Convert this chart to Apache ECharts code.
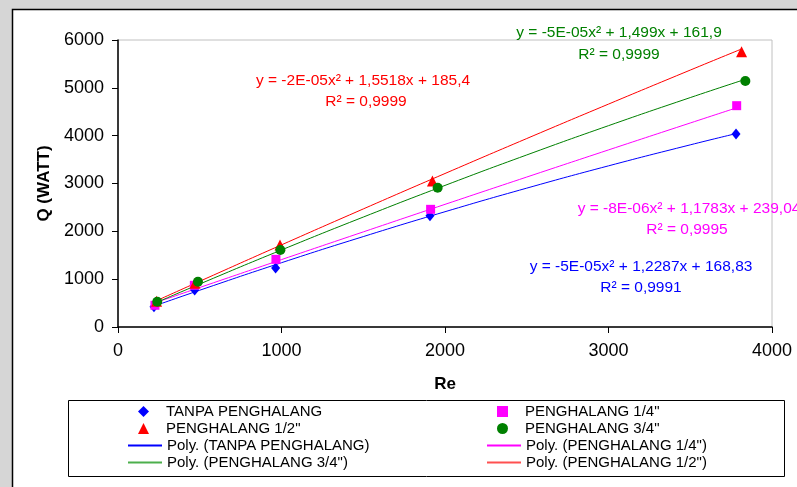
<!DOCTYPE html>
<html>
<head>
<meta charset="utf-8">
<script src="https://cdn.jsdelivr.net/npm/echarts@6/dist/echarts.min.js"></script>
<style>
  html, body { margin: 0; padding: 0; background: #d6d6d6; }
  #chart { width: 797px; height: 487px; }
</style>
</head>
<body>
<div id="chart"></div>
<script>
// titik data (Re, Q)
var reTanpa = [220, 469, 964, 1908, 3780];
var qTanpa = [425, 774, 1233, 2327, 4035];
var reQuarter = [226, 467, 966, 1912, 3784];
var qQuarter = [454, 872, 1415, 2460, 4627];
var reHalf = [236, 471, 991, 1923, 3814];
var qHalf = [540, 913, 1714, 3052, 5756];
var reThreeQ = [240, 489, 993, 1955, 3837];
var qThreeQ = [529, 947, 1610, 2913, 5143];

// garis trend
var trendTanpaRe = [220, 500, 1000, 1500, 2000, 2500, 3000, 3500, 3780];
var trendTanpaQ = [436, 769, 1344, 1890, 2410, 2903, 3369, 3808, 4043];
var trendQuarterRe = [226, 500, 1000, 1500, 2000, 2500, 3000, 3500, 3784];
var trendQuarterQ = [505, 826, 1409, 1988, 2564, 3135, 3702, 4265, 4583];
var trendHalfRe = [236, 500, 1000, 1500, 2000, 2500, 3000, 3500, 3814];
var trendHalfQ = [550, 956, 1717, 2468, 3209, 3940, 4660, 5371, 5812];
var trendThreeQRe = [240, 500, 1000, 1500, 2000, 2500, 3000, 3500, 3837];
var trendThreeQQ = [519, 899, 1611, 2298, 2960, 3597, 4209, 4796, 5178];

var xTicks = [0, 1000, 2000, 3000, 4000];
var yTicks = [0, 1000, 2000, 3000, 4000, 5000, 6000];

function pairs(xs, ys) {
  var out = [];
  for (var i = 0; i < xs.length; i++) {
    out.push([xs[i], ys[i]]);
  }
  return out;
}

var font = 'Arial, "Liberation Sans", sans-serif';

var myChart = echarts.init(document.getElementById('chart'), null, { renderer: 'canvas' });

function label(text, x, y, color) {
  return {
    type: 'text',
    x: x,
    y: y,
    z: 50,
    style: {
      text: text,
      fill: color,
      font: '15.5px ' + font,
      textAlign: 'center',
      textVerticalAlign: 'middle'
    }
  };
}

// legend kolom: penanda (marker) dan garis
function markerLegend(left, names) {
  return {
    orient: 'vertical',
    left: left,
    top: 404,
    padding: 0,
    itemWidth: 11,
    itemHeight: 11,
    itemGap: 2,
    selectedMode: false,
    itemStyle: { opacity: 1 },
    textStyle: { fontFamily: font, fontSize: 15, color: '#000', padding: [0, 0, 0, 12] },
    data: names
  };
}
function lineLegend(left, names) {
  return {
    orient: 'vertical',
    left: left,
    top: 438,
    padding: 0,
    icon: 'rect',
    itemWidth: 34,
    itemHeight: 2,
    itemGap: 2,
    selectedMode: false,
    textStyle: { fontFamily: font, fontSize: 15, color: '#000' },
    data: names
  };
}

var option = {
  backgroundColor: '#d6d6d6',
  animation: false,
  graphic: [
    {
      type: 'rect',
      z: -10,
      shape: { x: 12.5, y: 9.5, width: 800, height: 500 },
      style: { fill: '#ffffff', stroke: '#000000', lineWidth: 1.5 }
    },
    {
      type: 'rect',
      z: -5,
      shape: { x: 68.5, y: 400.5, width: 716, height: 76 },
      style: { fill: '#ffffff', stroke: '#000000', lineWidth: 1 }
    },
    label('y = -2E-05x² + 1,5518x + 185,4', 363, 81, '#ff0000'),
    label('R² = 0,9999', 366, 102, '#ff0000'),
    label('y = -5E-05x² + 1,499x + 161,9', 619, 33, '#008000'),
    label('R² = 0,9999', 619, 55, '#008000'),
    label('y = -8E-06x² + 1,1783x + 239,04', 689, 209, '#ff00ff'),
    label('R² = 0,9995', 687, 230, '#ff00ff'),
    label('y = -5E-05x² + 1,2287x + 168,83', 641, 267, '#0000ff'),
    label('R² = 0,9991', 641, 288, '#0000ff')
  ],
  grid: {
    left: 118,
    top: 40,
    right: 25,
    bottom: 160,
    show: true,
    backgroundColor: '#ffffff',
    borderColor: '#c0c0c0',
    borderWidth: 1
  },
  legend: [
    markerLegend(138, ['TANPA PENGHALANG', 'PENGHALANG 1/2"']),
    markerLegend(497, ['PENGHALANG 1/4"', 'PENGHALANG 3/4"']),
    lineLegend(128, ['Poly. (TANPA PENGHALANG)', 'Poly. (PENGHALANG 3/4")']),
    lineLegend(487, ['Poly. (PENGHALANG 1/4")', 'Poly. (PENGHALANG 1/2")'])
  ],
  xAxis: {
    type: 'value',
    min: xTicks[0],
    max: xTicks[xTicks.length - 1],
    interval: 1000,
    name: 'Re',
    nameLocation: 'middle',
    nameGap: 49,
    nameTextStyle: { fontFamily: font, fontSize: 17, fontWeight: 'bold', color: '#000' },
    axisLine: { lineStyle: { color: '#000', width: 1.5 } },
    axisTick: { inside: false, length: 6, lineStyle: { color: '#000' } },
    axisLabel: {
      margin: 15, fontFamily: font, fontSize: 18, color: '#000',
      formatter: function (v) { return String(v); }
    },
    splitLine: { show: false }
  },
  yAxis: {
    type: 'value',
    min: yTicks[0],
    max: yTicks[yTicks.length - 1],
    interval: 1000,
    name: 'Q (WATT)',
    nameLocation: 'middle',
    nameRotate: 90,
    nameGap: 63,
    nameTextStyle: { fontFamily: font, fontSize: 17, fontWeight: 'bold', color: '#000' },
    axisLine: { show: true, lineStyle: { color: '#000', width: 1.5 } },
    axisTick: { show: true, inside: false, length: 6, lineStyle: { color: '#000' } },
    axisLabel: {
      margin: 14, fontFamily: font, fontSize: 18, color: '#000',
      formatter: function (v) { return String(v); }
    },
    splitLine: { show: false }
  },
  series: [
    {
      name: 'Poly. (TANPA PENGHALANG)',
      type: 'line',
      smooth: true,
      symbol: 'none',
      lineStyle: { color: '#0000ff', width: 1 },
      itemStyle: { color: '#0000ff' },
      data: pairs(trendTanpaRe, trendTanpaQ)
    },
    {
      name: 'Poly. (PENGHALANG 1/4")',
      type: 'line',
      smooth: true,
      symbol: 'none',
      lineStyle: { color: '#ff00ff', width: 1 },
      itemStyle: { color: '#ff00ff' },
      data: pairs(trendQuarterRe, trendQuarterQ)
    },
    {
      name: 'Poly. (PENGHALANG 3/4")',
      type: 'line',
      smooth: true,
      symbol: 'none',
      lineStyle: { color: '#008000', width: 1 },
      itemStyle: { color: '#4caf4c' },
      data: pairs(trendThreeQRe, trendThreeQQ)
    },
    {
      name: 'Poly. (PENGHALANG 1/2")',
      type: 'line',
      smooth: true,
      symbol: 'none',
      lineStyle: { color: '#ff0000', width: 1 },
      itemStyle: { color: '#ff5050' },
      data: pairs(trendHalfRe, trendHalfQ)
    },
    {
      name: 'TANPA PENGHALANG',
      type: 'scatter',
      symbol: 'diamond',
      symbolSize: [9, 11],
      itemStyle: { color: '#0000ff', opacity: 1 },
      z: 5,
      data: pairs(reTanpa, qTanpa)
    },
    {
      name: 'PENGHALANG 1/4"',
      type: 'scatter',
      symbol: 'rect',
      symbolSize: 9,
      itemStyle: { color: '#ff00ff', opacity: 1 },
      z: 5,
      data: pairs(reQuarter, qQuarter)
    },
    {
      name: 'PENGHALANG 1/2"',
      type: 'scatter',
      symbol: 'triangle',
      symbolSize: 11,
      itemStyle: { color: '#ff0000', opacity: 1 },
      z: 5,
      data: pairs(reHalf, qHalf)
    },
    {
      name: 'PENGHALANG 3/4"',
      type: 'scatter',
      symbol: 'circle',
      symbolSize: 10,
      itemStyle: { color: '#008000', opacity: 1 },
      z: 5,
      data: pairs(reThreeQ, qThreeQ)
    }
  ]
};
myChart.setOption(option);
</script>
</body>
</html>
